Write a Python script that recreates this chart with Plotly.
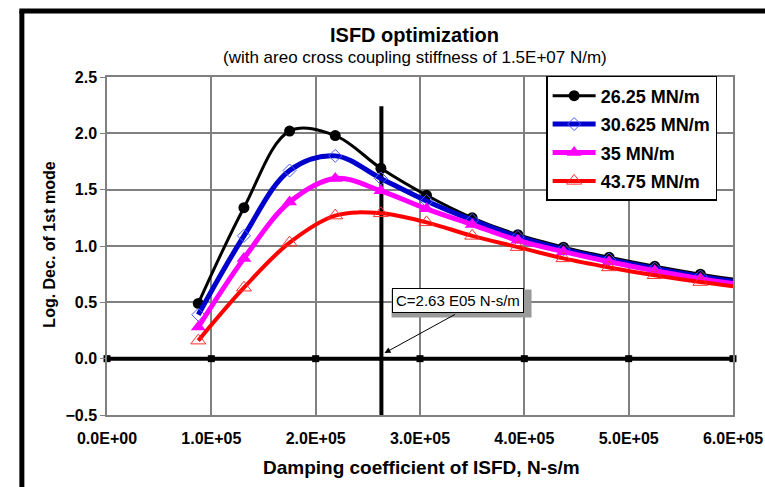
import plotly.graph_objects as go

# ---- data ----
damping = [87500, 131250, 175000, 218750, 262500, 306250, 350000, 393750,
           437500, 481250, 525000, 568750, 612500]
series_names = ["26.25 MN/m", "30.625 MN/m", "35 MN/m", "43.75 MN/m"]
logdec_2625 = [0.49, 1.34, 2.02, 1.98, 1.69, 1.45, 1.25, 1.10, 0.99, 0.90, 0.82, 0.75, 0.69]
logdec_30625 = [0.39, 1.09, 1.67, 1.80, 1.60, 1.40, 1.23, 1.08, 0.97, 0.88, 0.80, 0.73, 0.67]
logdec_35 = [0.28, 0.89, 1.39, 1.60, 1.49, 1.33, 1.19, 1.05, 0.95, 0.86, 0.78, 0.71, 0.65]
logdec_4375 = [0.16, 0.63, 1.03, 1.27, 1.29, 1.21, 1.09, 0.99, 0.89, 0.81, 0.74, 0.68, 0.63]
x_tick_vals = [0, 100000, 200000, 300000, 400000, 500000, 600000]
x_tick_text = ["0.0E+00", "1.0E+05", "2.0E+05", "3.0E+05", "4.0E+05", "5.0E+05", "6.0E+05"]
zero_line_y = [0, 0, 0, 0, 0, 0, 0]
c_opt = 2.63e5
c_line_y = [-0.5, 2.24]

FONT = "Arial, Liberation Sans, sans-serif"

fig = go.Figure()

# vertical optimum line
fig.add_trace(go.Scatter(x=[c_opt, c_opt], y=c_line_y, mode="lines",
                         line=dict(color="black", width=4), showlegend=False,
                         hoverinfo="skip"))
# thick zero line with square markers
fig.add_trace(go.Scatter(x=x_tick_vals, y=zero_line_y, mode="lines+markers",
                         line=dict(color="black", width=4),
                         marker=dict(symbol="square", size=7, color="black"),
                         showlegend=False, cliponaxis=False, hoverinfo="skip"))

styles = [
    dict(line=dict(color="black", width=3, shape="spline", smoothing=1.0),
         marker=dict(symbol="circle", size=11, color="black")),
    dict(line=dict(color="#0000cc", width=5, shape="spline", smoothing=1.0),
         marker=dict(symbol="diamond-open", size=10, color="#4a5cff", line=dict(width=1))),
    dict(line=dict(color="#ff00ff", width=5, shape="spline", smoothing=1.0),
         marker=dict(symbol="triangle-up", size=13, color="#ff00ff")),
    dict(line=dict(color="#ff0000", width=4, shape="spline", smoothing=1.0),
         marker=dict(symbol="triangle-up-open", size=13, color="#ff3030", line=dict(width=1))),
]
for i, (name, ys, st) in enumerate(zip(series_names,
                                       [logdec_2625, logdec_30625, logdec_35, logdec_4375],
                                       styles)):
    fig.add_trace(go.Scatter(x=damping, y=ys, mode="lines+markers", name=name,
                             legendgroup=f"g{i}", **st))

fig.update_layout(
    width=765, height=487,
    margin=dict(l=107, r=32, t=77, b=72, pad=0),
    paper_bgcolor="white", plot_bgcolor="white",
    font=dict(family=FONT, color="black"),
    showlegend=True,
    legend=dict(x=0.7015, y=1.003, xanchor="left", yanchor="top",
                bordercolor="black", borderwidth=1.5, bgcolor="white",
                font=dict(family=FONT, size=18, weight="bold"),
                traceorder="grouped", tracegroupgap=2, itemwidth=43),
)
fig.update_xaxes(range=[0, 600000], tickvals=x_tick_vals, ticktext=x_tick_text,
                 showgrid=True, gridcolor="#808080", gridwidth=1.5,
                 showline=True, linecolor="#808080", linewidth=1.5, mirror=True,
                 ticks="", zeroline=False, automargin=False, ticklabelstandoff=8,
                 tickfont=dict(family=FONT, size=16, weight="bold"))
fig.update_yaxes(range=[-0.5, 2.5], dtick=0.5, tickformat=".1f",
                 showgrid=True, gridcolor="#808080", gridwidth=1.5,
                 showline=True, linecolor="#808080", linewidth=1.5, mirror=True,
                 ticks="outside", ticklen=5, tickcolor="#808080", zeroline=False,
                 automargin=False,
                 tickfont=dict(family=FONT, size=16, weight="bold"))

# black gridline at 0.5
fig.add_shape(type="line", xref="paper", yref="y", x0=0, x1=1, y0=0.5, y1=0.5,
              line=dict(color="black", width=1), layer="below")

# outer frame (top-left corner visible)
fig.add_shape(type="line", xref="paper", yref="paper", x0=-0.136, x1=-0.136,
              y0=-0.3, y1=1.195, line=dict(color="black", width=5))
fig.add_shape(type="line", xref="paper", yref="paper", x0=-0.14, x1=1.1,
              y0=1.195, y1=1.195, line=dict(color="black", width=5))

# titles
fig.add_annotation(text="ISFD optimization", xref="paper", yref="paper",
                   x=0.492, y=1.124, showarrow=False, yanchor="middle",
                   font=dict(family=FONT, size=20, weight="bold"))
fig.add_annotation(text="(with areo cross coupling stiffness of 1.5E+07 N/m)",
                   xref="paper", yref="paper", x=0.492, y=1.059, showarrow=False,
                   yanchor="middle", font=dict(family=FONT, size=17))
fig.add_annotation(text="Damping coefficient of ISFD, N-s/m", xref="paper", yref="paper",
                   x=0.502, y=-0.154, showarrow=False, yanchor="middle",
                   font=dict(family=FONT, size=19, weight="bold"))
fig.add_annotation(text="Log. Dec. of 1st mode", xref="paper", yref="paper",
                   x=-0.0916, y=0.503, textangle=-90, showarrow=False,
                   xanchor="center", yanchor="middle",
                   font=dict(family=FONT, size=16, weight="bold"))

# callout: shadow (pixel-sized rect), box, arrow
box_x, box_y = 3.36e5, 0.516
fig.add_shape(type="rect", xref="x", yref="y", xsizemode="pixel", ysizemode="pixel",
              xanchor=box_x, yanchor=box_y, x0=-66, x1=74, y0=-17, y1=11,
              fillcolor="#9a9a9a", line=dict(width=0), layer="above")
fig.add_annotation(text="C=2.63 E05 N-s/m", x=box_x, y=box_y,
                   showarrow=False, bgcolor="white", bordercolor="black",
                   borderwidth=1, borderpad=3,
                   font=dict(family=FONT, size=15, color="black"))
fig.add_annotation(text="", x=2.66e5, y=0.05, ax=3.35e5, ay=0.40,
                   axref="x", ayref="y", showarrow=True, arrowhead=2,
                   arrowsize=1.2, arrowwidth=1, arrowcolor="black")

fig.write_html("out.html")
